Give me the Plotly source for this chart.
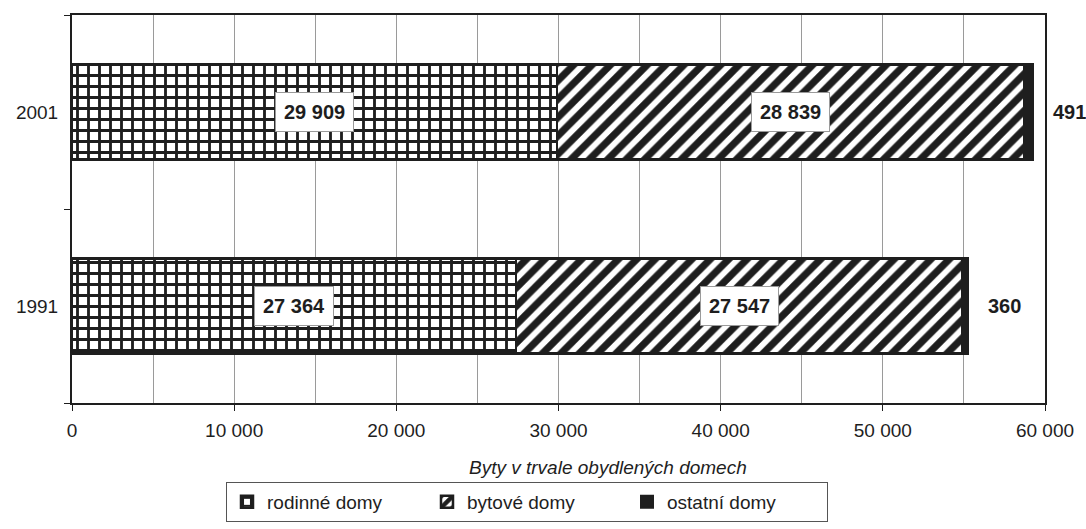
import plotly.graph_objects as go

years = ["1991", "2001"]
rodinne = [27364, 29909]
bytove = [27547, 28839]
ostatni = [360, 491]
series_names = ["rodinné domy", "bytové domy", "ostatní domy"]
x_title = "Byty v trvale obydlených domech"

FONT = "Liberation Sans, Arial, sans-serif"
DARK = "#1e1e1e"

W, H = 1086, 529
ML, MR, MT, MB = 72, 41, 15, 126
PLOT_H = H - MT - MB
PLOT_W = W - ML - MR


def fmt(v):
    return f"{v:,}".replace(",", " ")


fig = go.Figure()
fig.add_trace(go.Bar(
    y=years, x=rodinne, orientation="h", name=series_names[0],
    marker=dict(color="white", line=dict(color=DARK, width=2.5),
                pattern=dict(shape="+", fgcolor=DARK, bgcolor="white", fgopacity=1,
                             size=11, solidity=0.45)),
))
fig.add_trace(go.Bar(
    y=years, x=bytove, orientation="h", name=series_names[1],
    marker=dict(color="white", line=dict(color=DARK, width=2.5),
                pattern=dict(shape="/", fgcolor=DARK, bgcolor="white", fgopacity=1,
                             size=13, solidity=0.55)),
))
fig.add_trace(go.Bar(
    y=years, x=ostatni, orientation="h", name=series_names[2],
    marker=dict(color=DARK, line=dict(color=DARK, width=2)),
))

annotations = []
for i, yr in enumerate(years):
    a, b, c = rodinne[i], bytove[i], ostatni[i]
    for center, val in ((a / 2, a), (a + b / 2, b)):
        annotations.append(dict(
            x=center, y=i, xref="x", yref="y", text="<b>" + fmt(val) + "</b>", showarrow=False,
            font=dict(family=FONT, size=20, color=DARK),
            bgcolor="white", bordercolor="#9a9a9a", borderwidth=1, borderpad=8,
        ))
    annotations.append(dict(
        x=a + b + c, y=i, xref="x", yref="y", text="<b>" + fmt(c) + "</b>", showarrow=False,
        xanchor="left", xshift=18,
        font=dict(family=FONT, size=20, color=DARK),
    ))

annotations.append(dict(
    x=(608 - ML) / PLOT_W, y=(H - MB - 467) / PLOT_H, xref="paper", yref="paper",
    text="<i>" + x_title + "</i>", showarrow=False, xanchor="center", yanchor="middle",
    font=dict(family=FONT, size=19, color=DARK),
))

fig.update_layout(
    barmode="stack",
    bargap=0.51,
    width=W, height=H,
    margin=dict(l=ML, r=MR, t=MT, b=MB),
    paper_bgcolor="white", plot_bgcolor="white",
    separators=", ",
    font=dict(family=FONT, size=19, color=DARK),
    showlegend=True,
    legend=dict(
        orientation="h", xref="container", yref="container",
        x=527 / W, xanchor="center", y=1 - 482 / H, yanchor="top",
        entrywidth=155, bordercolor="#555555", borderwidth=1,
        font=dict(family=FONT, size=19, color=DARK), traceorder="normal",
    ),
    annotations=annotations,
)

fig.update_xaxes(
    range=[0, 60000], dtick=10000, tick0=0, tickformat=",d",
    showgrid=True, gridcolor="#9a9a9a", gridwidth=1,
    minor=dict(dtick=5000, showgrid=True, gridcolor="#9a9a9a", gridwidth=1),
    ticks="outside", ticklen=6, tickcolor=DARK, tickwidth=1,
    showline=True, linecolor=DARK, linewidth=2, mirror=True,
    zeroline=False, ticklabelstandoff=3,
    tickfont=dict(family=FONT, size=19, color=DARK),
)
fig.update_yaxes(
    type="category", categoryorder="array", categoryarray=years,
    range=[-0.5, 1.5], tickson="boundaries",
    ticks="outside", ticklen=6, tickcolor=DARK, tickwidth=1,
    showline=True, linecolor=DARK, linewidth=2, mirror=True,
    showgrid=False, zeroline=False, ticklabelstandoff=8,
    tickfont=dict(family=FONT, size=19, color=DARK),
)

fig.write_html("out.html", config={"displayModeBar": False},
               post_script="document.body.style.margin='0';")
